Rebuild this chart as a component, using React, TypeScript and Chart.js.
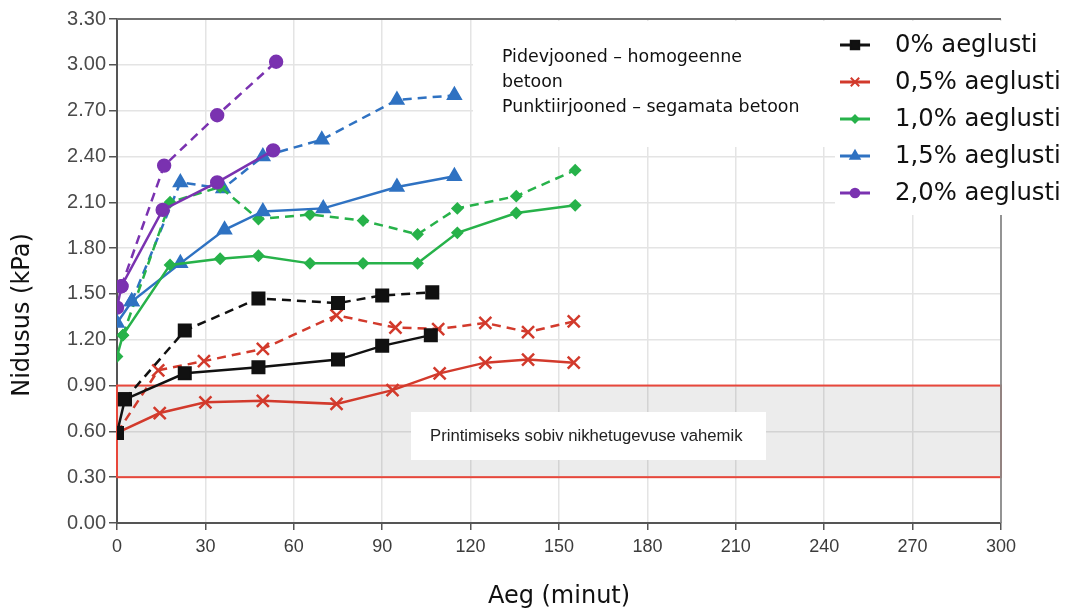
import React, { useEffect, useRef } from 'react';
import { Chart, registerables } from 'chart.js';
import { drawPoint } from 'chart.js/helpers';

Chart.register(...registerables);

// ---- data ----
const xTickValues = [0, 30, 60, 90, 120, 150, 180, 210, 240, 270, 300];
const yTickValues = [0, 0.3, 0.6, 0.9, 1.2, 1.5, 1.8, 2.1, 2.4, 2.7, 3.0, 3.3];

const legendLabels = ['0% aeglusti', '0,5% aeglusti', '1,0% aeglusti', '1,5% aeglusti', '2,0% aeglusti'];
const seriesColors = ['#111111', '#d23a2c', '#27b24a', '#2f72c2', '#7a32b0'];
const seriesMarkers = ['rect', 'crossRot', 'rectRot', 'triangle', 'circle'];
const markerRadius = [8.5, 8.5, 5, 7.5, 6.2];

// 0% aeglusti
const t0Solid = [0, 2.7, 23, 48, 75, 90, 106.5];
const v0Solid = [0.59, 0.81, 0.98, 1.02, 1.07, 1.16, 1.23];
const t0Dash = [2.7, 23, 48, 75, 90, 107];
const v0Dash = [0.81, 1.26, 1.47, 1.44, 1.49, 1.51];

// 0,5% aeglusti
const t05Solid = [0, 14.5, 30, 49.5, 74.5, 93.5, 109.5, 125, 139.5, 155];
const v05Solid = [0.59, 0.72, 0.79, 0.8, 0.78, 0.87, 0.98, 1.05, 1.07, 1.05];
const t05Dash = [0, 14, 29.5, 49.5, 74.5, 94.5, 109, 125, 139.5, 155];
const v05Dash = [0.59, 1.0, 1.06, 1.14, 1.36, 1.28, 1.27, 1.31, 1.25, 1.32];

// 1,0% aeglusti
const t10Solid = [0, 2, 18, 35, 48, 65.5, 83.5, 102, 115.5, 135.5, 155.5];
const v10Solid = [1.09, 1.23, 1.69, 1.73, 1.75, 1.7, 1.7, 1.7, 1.9, 2.03, 2.08];
const t10Dash = [2, 18, 35, 48, 65.5, 83.5, 102, 115.5, 135.5, 155.5];
const v10Dash = [1.23, 2.1, 2.2, 1.99, 2.02, 1.98, 1.89, 2.06, 2.14, 2.31];

// 1,5% aeglusti
const t15Solid = [0, 5, 21.5, 36.5, 49.5, 70, 95, 114.5];
const v15Solid = [1.31, 1.45, 1.7, 1.92, 2.04, 2.06, 2.2, 2.27];
const t15Dash = [5, 21.5, 36, 49.5, 69.5, 95, 114.5];
const v15Dash = [1.45, 2.23, 2.19, 2.4, 2.51, 2.77, 2.8];

// 2,0% aeglusti
const t20Solid = [0, 1.5, 15.5, 34, 53];
const v20Solid = [1.41, 1.55, 2.05, 2.23, 2.44];
const t20Dash = [1.5, 16, 34, 54];
const v20Dash = [1.55, 2.34, 2.67, 3.02];

const bandRange = [0.3, 0.9];
const bandText = 'Printimiseks sobiv nikhetugevuse vahemik';
const noteLines = ['Pidevjooned – homogeenne', 'betoon', 'Punktiirjooned – segamata betoon'];
const xTitle = 'Aeg (minut)';
const yTitle = 'Nidusus (kPa)';

const solidSeries = [
  [t0Solid, v0Solid],
  [t05Solid, v05Solid],
  [t10Solid, v10Solid],
  [t15Solid, v15Solid],
  [t20Solid, v20Solid],
];
const dashSeries = [
  [t0Dash, v0Dash],
  [t05Dash, v05Dash],
  [t10Dash, v10Dash],
  [t15Dash, v15Dash],
  [t20Dash, v20Dash],
];

function toPoints(ts: number[], vs: number[]) {
  return ts.map((t, i) => ({ x: t, y: vs[i] }));
}

const overlayPlugin = {
  id: 'overlay',
  beforeDatasetsDraw(chart: any) {
    const { ctx, chartArea, scales } = chart;
    const x = scales.x;
    const y = scales.y;
    ctx.save();
    // band
    const bx1 = x.getPixelForValue(0);
    const bx2 = x.getPixelForValue(300);
    const byTop = y.getPixelForValue(bandRange[1]);
    const byBot = y.getPixelForValue(bandRange[0]);
    ctx.fillStyle = 'rgba(0,0,0,0.075)';
    ctx.fillRect(bx1, byTop, bx2 - bx1, byBot - byTop);
    ctx.strokeStyle = '#e8473b';
    ctx.lineWidth = 2;
    ctx.strokeRect(bx1, byTop, bx2 - bx1, byBot - byTop);
    // white boxes
    ctx.fillStyle = '#ffffff';
    ctx.fillRect(473, 21, 362, 126);
    ctx.fillRect(835, 21, 238, 194);
    ctx.fillRect(411, 412, 355, 48);
    // top and right borders
    ctx.strokeStyle = '#6f6f6f';
    ctx.lineWidth = 1.8;
    ctx.beginPath();
    ctx.moveTo(chartArea.left, chartArea.top);
    ctx.lineTo(chartArea.right, chartArea.top);
    ctx.stroke();
    ctx.strokeStyle = '#8a8a8a';
    ctx.beginPath();
    ctx.moveTo(chartArea.right, 215);
    ctx.lineTo(chartArea.right, chartArea.bottom);
    ctx.stroke();
    ctx.restore();
  },
  afterDraw(chart: any) {
    const { ctx, chartArea } = chart;
    ctx.save();
    // band text
    ctx.fillStyle = '#222222';
    ctx.font = '16.7px "Liberation Sans", Arial, sans-serif';
    ctx.textBaseline = 'middle';
    ctx.textAlign = 'left';
    ctx.fillText(bandText, 430, 436);
    // note
    ctx.font = '17.4px "DejaVu Sans", sans-serif';
    ctx.fillStyle = '#111111';
    noteLines.forEach((l, i) => ctx.fillText(l, 502, 57 + i * 25));
    // legend
    legendLabels.forEach((lab, i) => {
      const cy = 45 + i * 37;
      ctx.strokeStyle = seriesColors[i];
      ctx.lineWidth = 3;
      ctx.setLineDash([]);
      ctx.beginPath();
      ctx.moveTo(840, cy);
      ctx.lineTo(870, cy);
      ctx.stroke();
      ctx.fillStyle = seriesColors[i];
      ctx.lineWidth = 2;
      drawPoint(ctx, { pointStyle: seriesMarkers[i], radius: markerRadius[i] * 0.7, rotation: 0, borderWidth: 2 } as any, 855, cy);
      ctx.fillStyle = '#111111';
      ctx.font = '24.3px "DejaVu Sans", sans-serif';
      ctx.textAlign = 'left';
      ctx.fillText(lab, 895, cy + 1);
    });
    // axis titles
    ctx.fillStyle = '#111111';
    ctx.font = '24px "DejaVu Sans", sans-serif';
    ctx.textAlign = 'center';
    ctx.fillText(xTitle, (chartArea.left + chartArea.right) / 2, 597);
    ctx.translate(23, 315);
    ctx.rotate(-Math.PI / 2);
    ctx.fillText(yTitle, 0, 0);
    ctx.restore();
  },
};

export default function App() {
  const ref = useRef<HTMLCanvasElement | null>(null);
  useEffect(() => {
    document.body.style.margin = '0';
    const canvas = ref.current;
    if (!canvas) return;
    const datasets: any[] = [];
    const mk = (s: any[], i: number, dashed: boolean) => ({
      label: legendLabels[i] + (dashed ? ' (segamata)' : ''),
      data: toPoints(s[0], s[1]),
      showLine: true,
      borderColor: seriesColors[i],
      backgroundColor: seriesColors[i],
      borderWidth: 2.5,
      borderDash: dashed ? [9, 6] : [],
      pointStyle: seriesMarkers[i],
      pointRadius: markerRadius[i],
      pointBorderWidth: seriesMarkers[i] === 'crossRot' ? 2.5 : 2,
      pointBorderColor: seriesColors[i],
      pointBackgroundColor: seriesColors[i],
      tension: 0,
    });
    solidSeries.forEach((s, i) => datasets.push(mk(s, i, false)));
    dashSeries.forEach((s, i) => datasets.push(mk(s, i, true)));
    const chart = new Chart(canvas, {
      type: 'scatter',
      data: { datasets },
      plugins: [overlayPlugin],
      options: {
        animation: false,
        responsive: false,
        devicePixelRatio: 1,
        layout: { padding: { left: 0, top: 19, right: 72, bottom: 0 } },
        plugins: { legend: { display: false }, tooltip: { enabled: false } },
        scales: {
          x: {
            type: 'linear',
            min: 0,
            max: 300,
            afterBuildTicks: (s: any) => {
              s.ticks = xTickValues.map((v) => ({ value: v }));
            },
            afterFit: (s: any) => {
              s.height = 87;
            },
            grid: { color: '#e4e4e4', lineWidth: 1.5, tickLength: 7, tickColor: '#555555' },
            border: { color: '#555555', width: 2 },
            ticks: {
              color: '#3c3c3c',
              font: { family: '"Liberation Sans", Arial, sans-serif', size: 18 },
              padding: 6,
              maxRotation: 0,
              autoSkip: false,
              callback: (v: any) => String(v),
            },
          },
          y: {
            type: 'linear',
            min: 0,
            max: 3.3,
            afterBuildTicks: (s: any) => {
              s.ticks = yTickValues.map((v) => ({ value: v }));
            },
            afterFit: (s: any) => {
              s.width = 117;
            },
            grid: { color: '#e4e4e4', lineWidth: 1.5, tickLength: 8, tickColor: '#555555' },
            border: { color: '#555555', width: 2 },
            ticks: {
              color: '#4a4a4a',
              font: { family: '"Liberation Sans", Arial, sans-serif', size: 20 },
              padding: 3,
              autoSkip: false,
              callback: (v: any) => Number(v).toFixed(2),
            },
          },
        },
      },
    });
    return () => chart.destroy();
  }, []);
  return <canvas ref={ref} width={1073} height={610} style={{ display: 'block' }} />;
}
